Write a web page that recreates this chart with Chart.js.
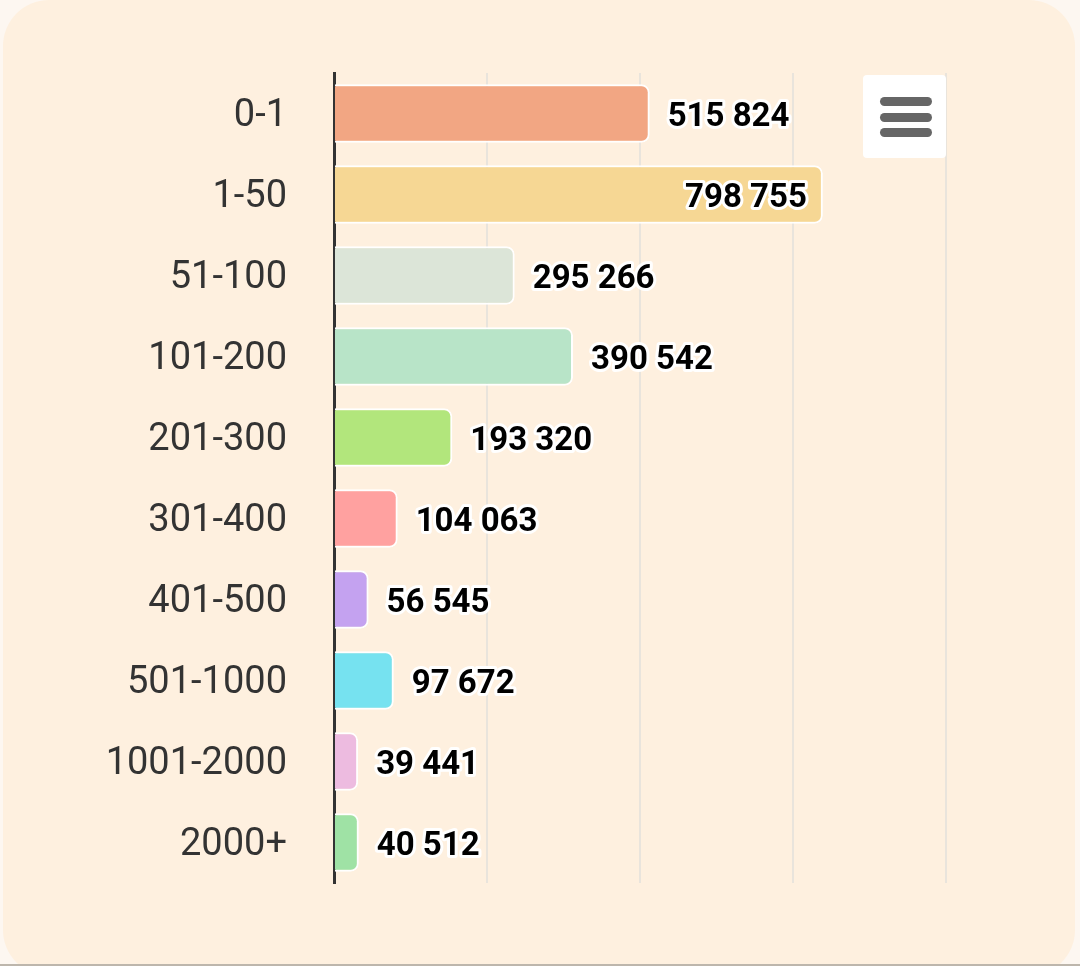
<!DOCTYPE html>
<html lang="en">
<head>
    <meta charset="UTF-8">
    <title>Bar chart</title>
    <script src="https://cdn.jsdelivr.net/npm/chart.js"></script>
    <style>
        html, body { margin: 0; padding: 0; }
        body { width: 1080px; height: 966px; overflow: hidden; background: #fdf7f1; position: relative; }
        .card { position: absolute; left: 3px; top: 0; width: 1072px; height: 976px; border-radius: 46px; background: #fef0df; }
        .chart-box { position: absolute; left: 0; top: 0; width: 1080px; height: 966px; }
        .menu { position: absolute; left: 863px; top: 75px; width: 83px; height: 83px; background: #fff; border-radius: 4px; }
        .menu span { position: absolute; left: 17px; width: 52px; height: 9px; border-radius: 5px; background: #666; }
        .bottom-line { position: absolute; left: 0; top: 964px; width: 1080px; height: 2px; background: #bdb6ac; }
    </style>
</head>
<body>
    <div class="card"></div>
    <div class="chart-box"><canvas id="myChart"></canvas></div>
    <div class="menu"><span style="top:22px"></span><span style="top:38px"></span><span style="top:53px"></span></div>
    <div class="bottom-line"></div>

<script>
    // dados
    const categorias = ['0-1', '1-50', '51-100', '101-200', '201-300', '301-400', '401-500', '501-1000', '1001-2000', '2000+'];
    const valores = [515824, 798755, 295266, 390542, 193320, 104063, 56545, 97672, 39441, 40512];
    const cores = ['#f2a683', '#f6d794', '#dce5d8', '#b8e4c8', '#b2e67c', '#ffa1a0', '#c4a2f0', '#76e2f0', '#edbbe0', '#9fe2a5'];
    const escalaMax = 1000000;
    const escalaPasso = 250000;

    function formatar(v) {
        return String(v).replace(/\B(?=(\d{3})+(?!\d))/g, ' ');
    }

    // rótulos de valor ao lado das barras
    const rotulos = {
        id: 'rotulos',
        afterDatasetsDraw(chart) {
            const ctx = chart.ctx;
            const area = chart.chartArea;
            const meta = chart.getDatasetMeta(0);
            ctx.save();
            ctx.font = 'bold 33px Roboto';
            ctx.textBaseline = 'middle';
            ctx.lineJoin = 'round';
            ctx.lineWidth = 6;
            ctx.strokeStyle = '#ffffff';
            ctx.fillStyle = '#000000';
            meta.data.forEach((bar, i) => {
                const txt = formatar(valores[i]);
                const w = ctx.measureText(txt).width;
                let x = bar.x + 18;
                ctx.textAlign = 'left';
                if (x + w > area.right) {
                    x = bar.x - 16;
                    ctx.textAlign = 'right';
                }
                ctx.strokeText(txt, x, bar.y + 4);
                ctx.fillText(txt, x, bar.y + 4);
            });
            ctx.restore();
        }
    };

    new Chart(document.getElementById('myChart'), {
        type: 'bar',
        data: {
            labels: categorias,
            datasets: [{
                data: valores,
                backgroundColor: cores,
                borderColor: '#ffffff',
                borderWidth: 2,
                borderRadius: 8,
                borderSkipped: 'start',
                barPercentage: 0.72,
                categoryPercentage: 1
            }]
        },
        options: {
            indexAxis: 'y',
            responsive: true,
            maintainAspectRatio: false,
            animation: false,
            layout: { padding: { top: 73, right: 134, bottom: 83, left: 0 } },
            plugins: {
                legend: { display: false },
                tooltip: { enabled: false }
            },
            scales: {
                x: {
                    min: 0,
                    max: escalaMax,
                    ticks: { display: false, stepSize: escalaPasso },
                    grid: { color: '#e9e4dc', lineWidth: 2, drawTicks: false },
                    border: { display: false },
                    afterFit(scale) { scale.height = 0; }
                },
                y: {
                    z: 1,
                    grid: { display: false, drawTicks: false },
                    border: { display: true, color: '#333333', width: 3 },
                    ticks: {
                        color: '#333333',
                        padding: 47,
                        labelOffset: 3,
                        font: { family: 'Roboto', size: 38 }
                    },
                    afterFit(scale) { scale.width = 334; }
                }
            }
        },
        plugins: [rotulos]
    });
</script>
</body>
</html>
